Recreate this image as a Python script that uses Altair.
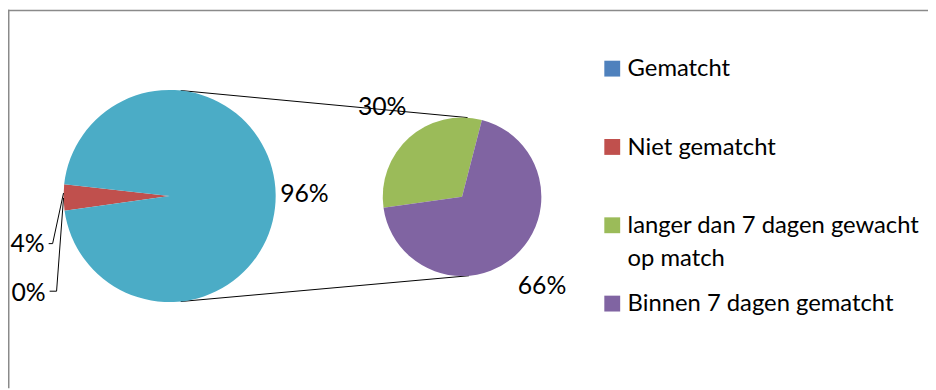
import math
import altair as alt
import pandas as pd

# ---------------- data ----------------
main_categories = ["Gematcht", "Niet gematcht", "Overig"]
main_values = [0, 4, 96]
main_labels = ["0%", "4%", "96%"]

sec_categories = ["langer dan 7 dagen gewacht op match", "Binnen 7 dagen gematcht"]
sec_values = [30, 66]
sec_labels = ["30%", "66%"]

legend_categories = ["Gematcht", "Niet gematcht",
                     "langer dan 7 dagen gewacht op match", "Binnen 7 dagen gematcht"]
legend_texts = ["Gematcht", "Niet gematcht",
                "langer dan 7 dagen gewacht\nop match", "Binnen 7 dagen gematcht"]

color_domain = legend_categories + ["Overig"]
color_range = ["#4F81BD", "#C0504D", "#9BBB59", "#8064A2", "#4BACC6"]

# ---------------- layout ----------------
W, H = 928, 382
FONT = "Lato"
FS = 25
LEG_FS = 24
MAIN_C = (163, 188)
MAIN_R = 107
SEC_C = (458, 188.7)
SEC_R = 80
START = math.radians(262)
MAIN_LABEL_R = 136
SEC_LABEL_R = 121
# outside labels for tiny slices (text right edge x, middle y) + leader polylines
small_label_layout = {
    "4%": {"pos": (37, 236.5), "leader": [(41, 236), (45, 236), (56, 185)]},
    "0%": {"pos": (38, 285.5), "leader": [(42, 284), (49, 284), (56, 190)]},
}
CONN_MAIN_DEG = (6, 174)
CONN_SEC_DEG = (4, 175)
LEG_SYM_X = 609.5
LEG_TXT_X = 625
LEG_Y_RANGE = [59.5, 296.5]

color_scale = alt.Scale(domain=color_domain, range=color_range)
theta_scale = alt.Scale(range=[START, START + 2 * math.pi])

main_df = pd.DataFrame({
    "cat": main_categories,
    "value": main_values,
    "label": main_labels,
    "order": list(range(len(main_categories))),
})
main_df["plabel"] = [l if c == "Overig" else "" for c, l in zip(main_categories, main_labels)]

sec_df = pd.DataFrame({
    "cat": sec_categories,
    "value": sec_values,
    "label": sec_labels,
    "order": list(range(len(sec_categories))),
})

one = pd.DataFrame({"k": [0]})

layers = []

# frame (top and left border)
layers.append(alt.Chart(one).mark_rule(color="#8a8a8a", strokeWidth=1.5).encode(
    x=alt.value(0), x2=alt.value(W), y=alt.value(0.75)))
layers.append(alt.Chart(one).mark_rule(color="#8a8a8a", strokeWidth=1.5).encode(
    x=alt.value(0.75), y=alt.value(0), y2=alt.value(H)))

# connector lines
def pt(c, r, deg):
    a = math.radians(deg)
    return (c[0] + r * math.sin(a), c[1] - r * math.cos(a))

for dm, ds in zip(CONN_MAIN_DEG, CONN_SEC_DEG):
    p1 = pt(MAIN_C, MAIN_R, dm)
    p2 = pt(SEC_C, SEC_R, ds)
    layers.append(alt.Chart(one).mark_rule(color="black", strokeWidth=1).encode(
        x=alt.value(p1[0]), y=alt.value(p1[1]), x2=alt.value(p2[0]), y2=alt.value(p2[1])))

# main pie
layers.append(alt.Chart(main_df).mark_arc(outerRadius=MAIN_R).encode(
    theta=alt.Theta("value:Q", stack="normalize", scale=theta_scale),
    color=alt.Color("cat:N", scale=color_scale, legend=None),
    order=alt.Order("order:Q"),
    x=alt.value(MAIN_C[0]), y=alt.value(MAIN_C[1]),
))
layers.append(alt.Chart(main_df).mark_text(radius=MAIN_LABEL_R, font=FONT, fontSize=FS,
                                           color="black").encode(
    theta=alt.Theta("value:Q", stack="normalize", scale=theta_scale),
    order=alt.Order("order:Q"),
    text="plabel:N",
    x=alt.value(MAIN_C[0]), y=alt.value(MAIN_C[1]),
))

# secondary pie
layers.append(alt.Chart(sec_df).mark_arc(outerRadius=SEC_R).encode(
    theta=alt.Theta("value:Q", stack="normalize", scale=theta_scale),
    color=alt.Color("cat:N", scale=color_scale, legend=None),
    order=alt.Order("order:Q"),
    x=alt.value(SEC_C[0]), y=alt.value(SEC_C[1]),
))
layers.append(alt.Chart(sec_df).mark_text(radius=SEC_LABEL_R, font=FONT, fontSize=FS,
                                          color="black").encode(
    theta=alt.Theta("value:Q", stack="normalize", scale=theta_scale),
    order=alt.Order("order:Q"),
    text="label:N",
    x=alt.value(SEC_C[0]), y=alt.value(SEC_C[1]),
))

# small-slice labels with leader lines
for lab in main_labels:
    if lab not in small_label_layout:
        continue
    lay = small_label_layout[lab]
    layers.append(alt.Chart(pd.DataFrame({"t": [lab]})).mark_text(
        font=FONT, fontSize=FS, color="black", align="right", baseline="middle").encode(
        text="t:N", x=alt.value(lay["pos"][0]), y=alt.value(lay["pos"][1])))
    pts = lay["leader"]
    for a, b in zip(pts[:-1], pts[1:]):
        layers.append(alt.Chart(one).mark_rule(color="black", strokeWidth=1).encode(
            x=alt.value(a[0]), y=alt.value(a[1]), x2=alt.value(b[0]), y2=alt.value(b[1])))

# legend
leg_df = pd.DataFrame({"cat": legend_categories, "text": legend_texts})
leg_y = alt.Y("cat:N", scale=alt.Scale(type="point", domain=legend_categories,
                                       range=LEG_Y_RANGE, padding=0), axis=None)
layers.append(alt.Chart(leg_df).mark_square(size=16 * 16, opacity=1).encode(
    y=leg_y, x=alt.value(LEG_SYM_X),
    color=alt.Color("cat:N", scale=color_scale, legend=None),
))
layers.append(alt.Chart(leg_df).mark_text(font=FONT, fontSize=LEG_FS, color="black",
                                          align="left", baseline="alphabetic",
                                          dy=0.33 * LEG_FS, lineBreak="\n",
                                          lineHeight=33).encode(
    y=leg_y, x=alt.value(LEG_TXT_X), text="text:N",
))

chart = alt.layer(*layers).properties(
    width=W, height=H, autosize="none", padding=0
).configure_view(stroke=None)

chart.save("out.html", embed_options={"renderer": "svg", "actions": False})
